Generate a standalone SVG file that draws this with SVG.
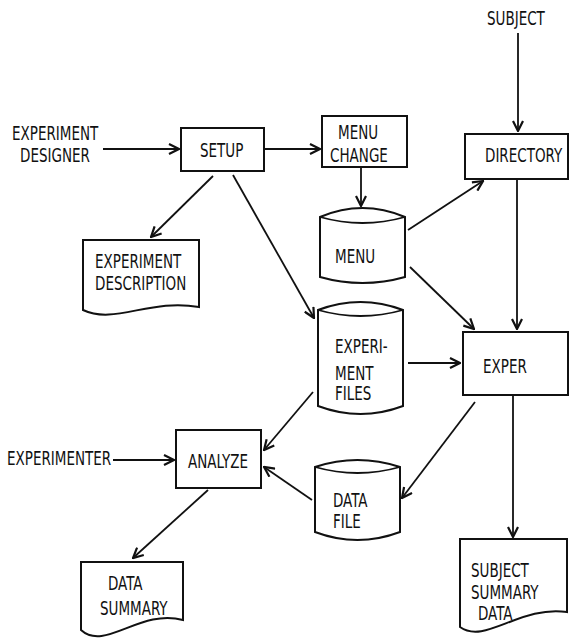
<svg xmlns="http://www.w3.org/2000/svg" width="571" height="642" viewBox="0 0 571 642">
<style>
.t{font-family:"DejaVu Sans Condensed","DejaVu Sans",sans-serif;font-stretch:condensed;font-size:15px;fill:#111}
.s{fill:#fff;stroke:#111;stroke-width:2}
.c{fill:none;stroke:#111;stroke-width:1.8}
</style>
<defs>
<marker id="a" viewBox="0 0 12 12" refX="11" refY="6" markerWidth="12" markerHeight="12" markerUnits="userSpaceOnUse" orient="auto">
<path d="M1,1 L11,6 L1,11" fill="none" stroke="#111" stroke-width="2.2"/>
</marker>
</defs>
<rect width="571" height="642" fill="#fff"/>
<g id="connectors">
<line class="c" x1="103" y1="149" x2="179" y2="149" stroke-width="2.8" marker-end="url(#a)"/>
<line class="c" x1="264" y1="149" x2="320" y2="149" marker-end="url(#a)"/>
<line class="c" x1="361" y1="168" x2="361" y2="206" marker-end="url(#a)"/>
<line class="c" x1="518" y1="33" x2="518" y2="131" marker-end="url(#a)"/>
<line class="c" x1="408" y1="230" x2="483" y2="181" marker-end="url(#a)"/>
<line class="c" x1="517" y1="179" x2="517" y2="329" marker-end="url(#a)"/>
<line class="c" x1="410" y1="267" x2="474" y2="329" marker-end="url(#a)"/>
<line class="c" x1="213" y1="176" x2="151" y2="237" marker-end="url(#a)"/>
<line class="c" x1="233" y1="175" x2="314" y2="318" marker-end="url(#a)"/>
<line class="c" x1="408" y1="363" x2="460" y2="363" marker-end="url(#a)"/>
<line class="c" x1="313" y1="392" x2="264" y2="450" marker-end="url(#a)"/>
<line class="c" x1="475" y1="402" x2="402" y2="498" marker-end="url(#a)"/>
<line class="c" x1="312" y1="500" x2="264" y2="467" marker-end="url(#a)"/>
<line class="c" x1="113" y1="460" x2="174" y2="460" marker-end="url(#a)"/>
<line class="c" x1="208" y1="490" x2="133" y2="558" marker-end="url(#a)"/>
<line class="c" x1="513" y1="395" x2="513" y2="537" marker-end="url(#a)"/>
</g>
<g id="experiment-designer">
<text class="t" transform="translate(12,140) scale(1,1.25)">EXPERIMENT</text>
<text class="t" transform="translate(20,162) scale(1,1.25)">DESIGNER</text>
</g>
<g id="setup">
<rect class="s" x="181" y="128" width="83" height="43"/>
<text class="t" transform="translate(200,157) scale(1,1.25)">SETUP</text>
</g>
<g id="menu-change">
<rect class="s" x="322" y="116" width="85" height="51"/>
<text class="t" transform="translate(338,139) scale(1,1.25)">MENU</text>
<text class="t" transform="translate(330,162) scale(1,1.25)">CHANGE</text>
</g>
<g id="subject">
<text class="t" transform="translate(487,25) scale(1,1.25)">SUBJECT</text>
</g>
<g id="directory">
<rect class="s" x="465" y="134" width="103" height="45"/>
<text class="t" transform="translate(485,162) scale(1,1.25)">DIRECTORY</text>
</g>
<g id="experiment-description">
<path class="s" d="M83,240 L199,240 L199,307 C150,298 115,325 83,310 Z"/>
<text class="t" transform="translate(95,268) scale(1,1.25)">EXPERIMENT</text>
<text class="t" transform="translate(95,290) scale(1,1.25)">DESCRIPTION</text>
</g>
<g id="menu">
<path class="s" d="M320,217 Q362.5,199 405,217 L405,277 Q362.5,289 320,277 Z"/>
<path class="c" stroke-width="2" d="M320,217 Q362.5,229 405,217"/>
<text class="t" transform="translate(335,263) scale(1,1.25)">MENU</text>
</g>
<g id="experiment-files">
<path class="s" d="M318,310 Q360.5,294 403,310 L403,406 Q360.5,422 318,406 Z"/>
<path class="c" stroke-width="2" d="M318,310 Q360.5,322 403,310"/>
<text class="t" transform="translate(335,353) scale(1,1.25)">EXPERI-</text>
<text class="t" transform="translate(335,380) scale(1,1.25)">MENT</text>
<text class="t" transform="translate(335,400) scale(1,1.25)">FILES</text>
</g>
<g id="exper">
<rect class="s" x="463" y="332" width="105" height="63"/>
<text class="t" transform="translate(483,373) scale(1,1.25)">EXPER</text>
</g>
<g id="experimenter">
<text class="t" transform="translate(7,465) scale(1,1.25)">EXPERIMENTER</text>
</g>
<g id="analyze">
<rect class="s" x="176" y="430" width="85" height="58"/>
<text class="t" transform="translate(188,468) scale(1,1.25)">ANALYZE</text>
</g>
<g id="data-file">
<path class="s" d="M315,467 Q357.5,453 400,467 L400,532 Q357.5,548 315,532 Z"/>
<path class="c" stroke-width="2" d="M315,467 Q357.5,479 400,467"/>
<text class="t" transform="translate(333,507) scale(1,1.25)">DATA</text>
<text class="t" transform="translate(333,528) scale(1,1.25)">FILE</text>
</g>
<g id="data-summary">
<path class="s" d="M81,562 L183,562 L183,620 C140,608 105,652 81,630 Z"/>
<text class="t" transform="translate(108,590) scale(1,1.25)">DATA</text>
<text class="t" transform="translate(100,615) scale(1,1.25)">SUMMARY</text>
</g>
<g id="subject-summary-data">
<path class="s" d="M460,539 L567,539 L567,612 C520,605 485,645 460,627 Z"/>
<text class="t" transform="translate(471,577) scale(1,1.25)">SUBJECT</text>
<text class="t" transform="translate(471,599) scale(1,1.25)">SUMMARY</text>
<text class="t" transform="translate(478,620) scale(1,1.25)">DATA</text>
</g>
</svg>
